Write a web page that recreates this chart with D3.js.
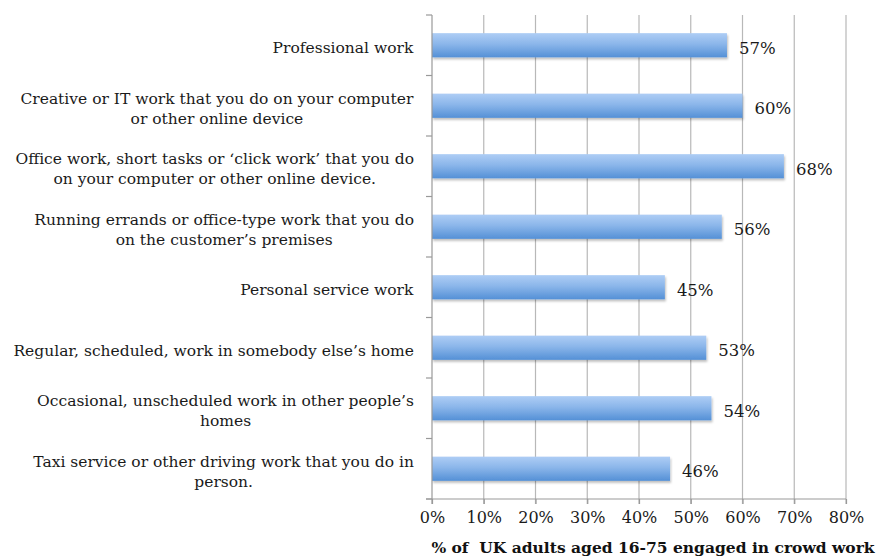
<!DOCTYPE html>
<html><head><meta charset="utf-8">
<script src="https://cdn.jsdelivr.net/npm/d3@7"></script>
<style>body{margin:0;background:#fff}</style>
</head><body>
<svg id="chart" width="885" height="560"></svg>
<script>
const categories = [
  ["Professional work"],
  ["Creative or IT work that you do on your computer", "or other online device"],
  ["Office work, short tasks or \u2018click work\u2019 that you do", "on your computer or other online device."],
  ["Running errands or office-type work that you do", "on the customer\u2019s premises"],
  ["Personal service work"],
  ["Regular, scheduled, work in somebody else\u2019s home"],
  ["Occasional, unscheduled work in other people\u2019s", "homes"],
  ["Taxi service or other driving work that you do in", "person."]
];
const values = [57, 60, 68, 56, 45, 53, 54, 46];
const xTicks = [0, 10, 20, 30, 40, 50, 60, 70, 80];
const xTitle = "% of  UK adults aged 16-75 engaged in crowd work";

const svg = d3.select("#chart");
const m = {left: 432, right: 846, top: 15, bottom: 499};
const font = "'DejaVu Serif', serif";

const x = d3.scaleLinear().domain([0, 80]).range([m.left, m.right]);
const y = d3.scaleBand().domain(d3.range(categories.length)).range([m.top, m.bottom]).paddingInner(0.6).paddingOuter(0.3);
const yb = d3.scaleBand().domain(d3.range(categories.length)).range([m.top, m.bottom]);

const defs = svg.append("defs");
const g = defs.append("linearGradient").attr("id", "barGrad").attr("x1", 0).attr("x2", 0).attr("y1", 0).attr("y2", 1);
g.append("stop").attr("offset", "0%").attr("stop-color", "#aecdf5");
g.append("stop").attr("offset", "45%").attr("stop-color", "#8bb6ea");
g.append("stop").attr("offset", "100%").attr("stop-color", "#5490d6");
const f = defs.append("filter").attr("id", "shadow").attr("x", "-5%").attr("y", "-20%").attr("width", "110%").attr("height", "160%");
f.append("feDropShadow").attr("dx", 1).attr("dy", 2).attr("stdDeviation", 1.2).attr("flood-color", "#000").attr("flood-opacity", 0.25);

// gridlines
svg.append("g").selectAll("line").data(xTicks.slice(1)).join("line")
  .attr("x1", d => x(d)).attr("x2", d => x(d))
  .attr("y1", m.top).attr("y2", m.bottom + 5)
  .attr("stroke", "#b8b8b8").attr("stroke-width", 1.2);

// bars
svg.append("g").selectAll("rect").data(values).join("rect")
  .attr("x", x(0)).attr("y", (d, i) => y(i))
  .attr("width", d => x(d) - x(0)).attr("height", y.bandwidth())
  .attr("fill", "url(#barGrad)").attr("filter", "url(#shadow)");

// axes
const xAxis = d3.axisBottom(x).tickValues(xTicks).tickFormat(d => d + "%").tickSize(5).tickPadding(8);
const xg = svg.append("g").attr("transform", `translate(0,${m.bottom})`).call(xAxis);
xg.select(".domain").attr("stroke", "#999").attr("stroke-width", 1.2).attr("d", `M${m.left - 6},0H${m.right}`);
xg.selectAll(".tick line").attr("stroke", "#999").attr("stroke-width", 1.2);
xg.selectAll("text").attr("font-family", font).attr("font-size", 16).attr("fill", "#1a1a1a");

const yTickPos = d3.range(categories.length + 1).map(i => m.top + i * yb.step());
svg.append("line").attr("x1", m.left).attr("x2", m.left).attr("y1", m.top).attr("y2", m.bottom + 5)
  .attr("stroke", "#999").attr("stroke-width", 1.2);
svg.append("g").selectAll("line").data(yTickPos).join("line")
  .attr("x1", m.left - 6).attr("x2", m.left).attr("y1", d => d).attr("y2", d => d)
  .attr("stroke", "#999").attr("stroke-width", 1.2);

// category labels
const lineH = 20;
const lab = svg.append("g").selectAll("text").data(categories).join("text")
  .attr("font-family", font).attr("font-size", 15.5).attr("fill", "#1a1a1a")
  .attr("text-anchor", "middle");
lab.each(function(lines, i) {
  const t = d3.select(this);
  const n = lines.length;
  const cy = yb(i) + yb.bandwidth() / 2 + 2.5;
  lines.forEach((l, k) => {
    t.append("tspan").attr("x", 214)
      .attr("y", cy + (k - (n - 1) / 2) * lineH).attr("dy", "0.35em").text(l);
  });
});
lab.each(function() {
  const t = d3.select(this);
  const bb = this.getBBox();
  const shift = 414 - (bb.x + bb.width);
  t.selectAll("tspan").attr("x", 214 + shift);
});

// value labels
svg.append("g").selectAll("text").data(values).join("text")
  .attr("font-family", font).attr("font-size", 16.5).attr("fill", "#1a1a1a")
  .attr("x", d => x(d) + 12).attr("y", (d, i) => y(i) + y.bandwidth() / 2 + 2.5)
  .attr("dy", "0.35em").text(d => d + "%");

// x title
svg.append("text").attr("font-family", font).attr("font-size", 15.5).attr("font-weight", "bold").attr("fill", "#111")
  .style("white-space", "pre").attr("xml:space", "preserve")
  .attr("text-anchor", "middle").attr("x", 653).attr("y", 553).text(xTitle);
</script>
</body></html>
